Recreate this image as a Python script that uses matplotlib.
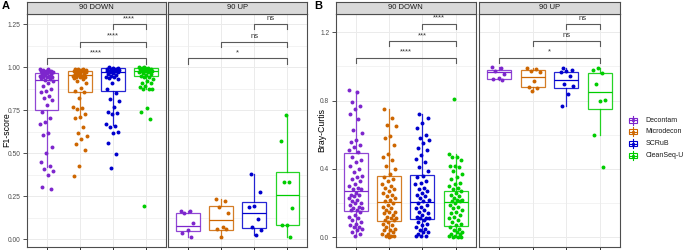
import numpy as np
import matplotlib
matplotlib.use("Agg")
import matplotlib.pyplot as plt
from matplotlib.patches import Rectangle

plt.rcParams["font.family"] = ["Liberation Sans", "DejaVu Sans"]

# ---------------- data ----------------
methods = ["Decontam", "Microdecon", "SCRuB", "CleanSeq-U"]
colors = ["#7D26CD", "#CD6600", "#0000CD", "#00CD00"]
facets = ["90 DOWN", "90 UP"]

# F1-score points
f1_down_decontam = [0.99, 0.99, 0.985, 0.98, 0.98, 0.975, 0.975, 0.97, 0.97, 0.965, 0.96, 0.96,
                    0.955, 0.95, 0.95, 0.945, 0.94, 0.94, 0.935, 0.93, 0.925, 0.92, 0.91, 0.89,
                    0.87, 0.862, 0.855, 0.83, 0.82, 0.81, 0.78, 0.737, 0.702, 0.682, 0.672, 0.618,
                    0.607, 0.537, 0.499, 0.448, 0.425, 0.406, 0.398, 0.371, 0.302, 0.294]
f1_down_microdecon = [0.99, 0.99, 0.99, 0.985, 0.985, 0.98, 0.98, 0.98, 0.975, 0.975, 0.97, 0.97,
                      0.965, 0.96, 0.96, 0.955, 0.95, 0.95, 0.945, 0.94, 0.94, 0.935, 0.93, 0.92,
                      0.905, 0.88, 0.86, 0.855, 0.82, 0.77, 0.76, 0.755, 0.73, 0.71, 0.705, 0.65,
                      0.62, 0.60, 0.585, 0.555, 0.52, 0.425, 0.37]
f1_down_scrub = [1.0, 0.995, 0.995, 0.99, 0.99, 0.99, 0.985, 0.985, 0.98, 0.98, 0.98, 0.975,
                 0.975, 0.97, 0.97, 0.965, 0.96, 0.955, 0.95, 0.945, 0.94, 0.935, 0.93, 0.91,
                 0.872, 0.847, 0.812, 0.805, 0.769, 0.74, 0.735, 0.73, 0.667, 0.655, 0.652,
                 0.624, 0.618, 0.56, 0.493, 0.415]
f1_down_clean = [1.0, 1.0, 0.995, 0.995, 0.99, 0.99, 0.99, 0.985, 0.985, 0.98, 0.98, 0.98,
                 0.975, 0.975, 0.97, 0.97, 0.965, 0.96, 0.955, 0.95, 0.945, 0.94, 0.93, 0.92,
                 0.91, 0.905, 0.89, 0.885, 0.875, 0.87, 0.87, 0.765, 0.74, 0.698, 0.195]
f1_up_decontam = [0.166, 0.166, 0.154, 0.096, 0.052, 0.038, 0.012]
f1_up_microdecon = [0.232, 0.222, 0.189, 0.153, 0.07, 0.06, 0.058, 0.015]
f1_up_scrub = [0.379, 0.276, 0.195, 0.19, 0.12, 0.07, 0.055, 0.023]
f1_up_clean = [0.719, 0.572, 0.33, 0.33, 0.181, 0.085, 0.08, 0.015]

# F1 box stats: whislo, q1, med, q3, whishi
f1_down_box = [[0.42, 0.748, 0.924, 0.966, 0.99],
               [0.705, 0.853, 0.953, 0.976, 0.99],
               [0.665, 0.86, 0.969, 0.992, 1.0],
               [0.87, 0.947, 0.98, 0.995, 1.0]]
f1_up_box = [[0.012, 0.048, 0.075, 0.151, 0.166],
             [0.015, 0.052, 0.11, 0.195, 0.232],
             [0.023, 0.064, 0.153, 0.215, 0.379],
             [0.015, 0.085, 0.255, 0.39, 0.719]]

# Bray-Curtis points
bc_down_decontam = [0.86, 0.85, 0.79, 0.77, 0.75, 0.72, 0.69, 0.63, 0.61, 0.57, 0.56, 0.54, 0.53,
                    0.51, 0.50, 0.47, 0.45, 0.44, 0.42, 0.40, 0.38, 0.36, 0.35, 0.34, 0.33, 0.31,
                    0.30, 0.29, 0.28, 0.28, 0.26, 0.25, 0.25, 0.24, 0.23, 0.22, 0.21, 0.20, 0.20,
                    0.19, 0.18, 0.17, 0.17, 0.16, 0.16, 0.15, 0.13, 0.12, 0.11, 0.10, 0.09, 0.08,
                    0.07, 0.06, 0.06, 0.05, 0.04, 0.03, 0.02, 0.01]
bc_down_microdecon = [0.75, 0.70, 0.66, 0.65, 0.59, 0.58, 0.54, 0.49, 0.47, 0.45, 0.42, 0.40, 0.37,
                      0.35, 0.34, 0.33, 0.31, 0.30, 0.29, 0.28, 0.27, 0.26, 0.25, 0.24, 0.23, 0.22,
                      0.21, 0.20, 0.19, 0.18, 0.17, 0.16, 0.15, 0.15, 0.14, 0.13, 0.12, 0.11, 0.11,
                      0.10, 0.10, 0.09, 0.08, 0.07, 0.06, 0.05, 0.04, 0.04, 0.03, 0.02, 0.02, 0.01,
                      0.01, 0.005, 0.0]
bc_down_scrub = [0.72, 0.70, 0.67, 0.64, 0.60, 0.58, 0.57, 0.55, 0.52, 0.51, 0.48, 0.46, 0.44,
                 0.41, 0.39, 0.36, 0.35, 0.33, 0.32, 0.31, 0.29, 0.28, 0.27, 0.26, 0.25, 0.24,
                 0.23, 0.22, 0.21, 0.20, 0.19, 0.18, 0.17, 0.16, 0.15, 0.14, 0.13, 0.12, 0.11,
                 0.11, 0.11, 0.10, 0.09, 0.08, 0.07, 0.06, 0.05, 0.04, 0.03, 0.03, 0.02, 0.01,
                 0.01, 0.005]
bc_down_clean = [0.81, 0.49, 0.47, 0.47, 0.45, 0.42, 0.42, 0.41, 0.39, 0.37, 0.35, 0.34, 0.32,
                 0.31, 0.30, 0.29, 0.28, 0.27, 0.26, 0.25, 0.24, 0.23, 0.22, 0.22, 0.21, 0.21,
                 0.20, 0.19, 0.18, 0.17, 0.16, 0.15, 0.14, 0.13, 0.12, 0.11, 0.10, 0.09, 0.08,
                 0.07, 0.06, 0.05, 0.04, 0.03, 0.03, 0.02, 0.02, 0.01, 0.01, 0.0, 0.0, 0.0]
bc_up_decontam = [0.997, 0.989, 0.976, 0.955, 0.93, 0.925, 0.923]
bc_up_microdecon = [0.99, 0.985, 0.975, 0.966, 0.915, 0.88, 0.872, 0.855]
bc_up_scrub = [0.989, 0.98, 0.975, 0.97, 0.945, 0.90, 0.885, 0.839, 0.769]
bc_up_clean = [0.993, 0.98, 0.962, 0.90, 0.804, 0.80, 0.599, 0.413]

bc_down_box = [[0.01, 0.154, 0.271, 0.492, 0.858],
               [0.0, 0.094, 0.207, 0.361, 0.749],
               [0.005, 0.105, 0.209, 0.367, 0.722],
               [0.0, 0.066, 0.205, 0.271, 0.488]]
bc_up_box = [[0.923, 0.929, 0.966, 0.98, 0.997],
             [0.855, 0.882, 0.939, 0.978, 0.99],
             [0.769, 0.874, 0.919, 0.966, 0.989],
             [0.599, 0.751, 0.851, 0.96, 0.993]]

# significance labels (brackets from group i to CleanSeq-U)
sig_f1_down = ["****", "****", "****"]
sig_f1_up = ["*", "ns", "ns"]
sig_bc_down = ["****", "***", "****"]
sig_bc_up = ["*", "ns", "ns"]

# ---------------- plotting ----------------
W, H = 685, 250
fig = plt.figure(figsize=(W / 100, H / 100), dpi=100)

def px_axes(x0, x1, y0, y1):
    # pixel coords (top-left origin) -> figure axes
    return fig.add_axes([x0 / W, (H - y1) / H, (x1 - x0) / W, (y1 - y0) / H])

GRID = "#EBEBEB"
BORDER = "#4D4D4D"

def draw_facet(ax, pts, boxes, sigs, ylim, yticks, minor, show_y, fmt):
    ax.set_xlim(0.4, 4.6)
    ax.set_ylim(*ylim)
    ax.set_xticks(range(1, 5))
    ax.set_yticks(yticks)
    ax.set_yticks(minor, minor=True)
    ax.tick_params(axis="x", length=3, width=0.6, color="#333333", labelbottom=False)
    ax.tick_params(axis="y", which="minor", length=0)
    if show_y:
        ax.set_yticklabels([fmt.format(v) for v in yticks])
        ax.tick_params(axis="y", labelsize=4.8, labelcolor="#4D4D4D", length=3, width=0.6,
                       color="#333333", pad=1.5)
    else:
        ax.tick_params(axis="y", length=0, labelleft=False)
    ax.grid(True, which="major", color=GRID, lw=0.7, zorder=0)
    ax.grid(True, which="minor", axis="y", color=GRID, lw=0.4, zorder=0)
    ax.set_axisbelow(True)
    for s in ax.spines.values():
        s.set_color(BORDER)
        s.set_linewidth(0.8)

    for i in range(4):
        lo, q1, med, q3, hi = boxes[i]
        stats = [dict(whislo=lo, q1=q1, med=med, q3=q3, whishi=hi, fliers=[])]
        c = colors[i]
        ax.bxp(stats, positions=[i + 1], widths=0.72, showcaps=False, showfliers=False,
               patch_artist=True,
               boxprops=dict(facecolor="white", edgecolor=c, lw=0.9, alpha=0.85),
               medianprops=dict(color=c, lw=0.9),
               whiskerprops=dict(color=c, lw=0.9, alpha=0.85), zorder=2)
        y = np.array(pts[i])
        n = len(y)
        offs = ((np.arange(n) * 0.618034 + 0.13 * i) % 1 - 0.5) * 0.42
        ax.scatter(i + 1 + offs, y, s=8, color=c, lw=0, zorder=3)

    # brackets
    levels = [1.05, 1.148, 1.25]
    tip = 0.03
    for k, g in enumerate([1, 2, 3]):
        yb = levels[k]
        ax.plot([g, g, 4, 4], [yb - tip, yb, yb, yb - tip], color="#5A5A5A", lw=0.8, zorder=4)
        ax.text((g + 4) / 2, yb + 0.012, sigs[k], ha="center", va="bottom", fontsize=5.5,
                color="#333333")

def draw_strip(x0, x1, label):
    sax = px_axes(x0, x1, 2, 13.7)
    sax.set_facecolor("#D9D9D9")
    sax.set_xticks([])
    sax.set_yticks([])
    for s in sax.spines.values():
        s.set_color(BORDER)
        s.set_linewidth(0.8)
    sax.text(0.5, 0.5, label, ha="center", va="center", fontsize=5.5, color="#1A1A1A",
             transform=sax.transAxes)

f1_down = [f1_down_decontam, f1_down_microdecon, f1_down_scrub, f1_down_clean]
f1_up = [f1_up_decontam, f1_up_microdecon, f1_up_scrub, f1_up_clean]
bc_down = [bc_down_decontam, bc_down_microdecon, bc_down_scrub, bc_down_clean]
bc_up = [bc_up_decontam, bc_up_microdecon, bc_up_scrub, bc_up_clean]

f1_lim = (-0.045, 1.31)
f1_ticks = [0.0, 0.25, 0.5, 0.75, 1.0, 1.25]
f1_minor = [0.125, 0.375, 0.625, 0.875, 1.125]
bc_lim = (-0.057, 1.309)
bc_ticks = [0.0, 0.4, 0.8, 1.2]
bc_minor = [0.2, 0.6, 1.0]

# Panel A
axA1 = px_axes(26.7, 165.7, 13.7, 247)
axA2 = px_axes(168.3, 307.3, 13.7, 247)
draw_facet(axA1, f1_down, f1_down_box, sig_f1_down, f1_lim, f1_ticks, f1_minor, True, "{:.2f}")
draw_facet(axA2, f1_up, f1_up_box, sig_f1_up, f1_lim, f1_ticks, f1_minor, False, "{:.2f}")
draw_strip(26.7, 165.7, facets[0])
draw_strip(168.3, 307.3, facets[1])

# Panel B
axB1 = px_axes(335.5, 475.7, 13.7, 247)
axB2 = px_axes(479, 620, 13.7, 247)
draw_facet(axB1, bc_down, bc_down_box, sig_bc_down, bc_lim, bc_ticks, bc_minor, True, "{:.1f}")
draw_facet(axB2, bc_up, bc_up_box, sig_bc_up, bc_lim, bc_ticks, bc_minor, False, "{:.1f}")
draw_strip(335.5, 475.7, facets[0])
draw_strip(479, 620, facets[1])

# axis titles and panel tags
fig.text(6.5 / W, 1 - 130 / H, "F1-score", rotation=90, fontsize=6.3, va="center", ha="center")
fig.text(322 / W, 1 - 130 / H, "Bray-Curtis", rotation=90, fontsize=6.3, va="center", ha="center")
fig.text(2 / W, 1 - 6 / H, "A", fontsize=8, fontweight="bold", va="center", ha="left")
fig.text(314 / W, 1 - 6 / H, "B", fontsize=8, fontweight="bold", va="center", ha="left")

# legend (boxplot glyph keys)
lax = px_axes(626, 685, 110, 162)
lax.set_xlim(0, 59)
lax.set_ylim(52, 0)
lax.axis("off")
rows = [10, 21.5, 33.5, 45.5]
for i, m in enumerate(methods):
    c = colors[i]
    yc = rows[i]
    lax.plot([6.5, 6.5], [yc - 4.5, yc + 4.5], color=c, lw=0.8)
    lax.add_patch(Rectangle((2.5, yc - 2.5), 8, 5, facecolor="white", edgecolor=c, lw=0.8))
    lax.plot([2.5, 10.5], [yc, yc], color=c, lw=0.8)
    lax.scatter([6.5], [yc], s=6, color=c, lw=0, zorder=3)
    lax.text(19.5, yc, m, fontsize=5, va="center", ha="left", color="#1A1A1A")

fig.savefig("out.png", dpi=100)
